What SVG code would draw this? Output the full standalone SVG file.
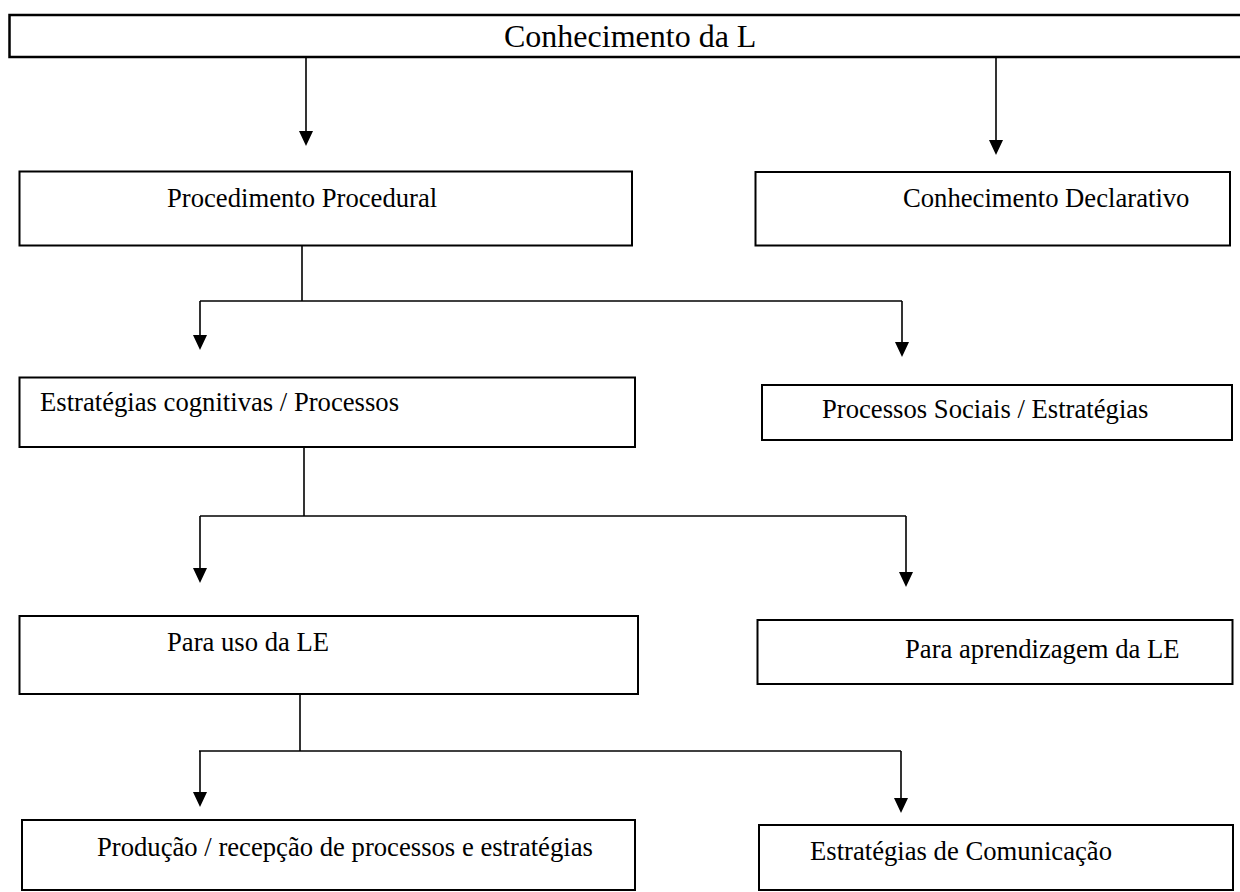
<svg xmlns="http://www.w3.org/2000/svg" width="1240" height="892" viewBox="0 0 1240 892">
<style>
.box{fill:#fff;stroke:#000;stroke-width:2}
.t{font-family:"Liberation Serif","Times New Roman",serif;font-size:26.67px;fill:#000}
.big{font-size:32px}
.c{fill:none;stroke:#000;stroke-width:1.6}
</style>
<defs>
<marker id="ah" viewBox="0 0 15 14" refX="5" refY="7" markerWidth="15" markerHeight="14" markerUnits="userSpaceOnUse" orient="auto">
<path d="M0,0 L15,7 L0,14 Z" fill="#000"/>
</marker>
</defs>
<rect width="1240" height="892" fill="#fff"/>
<g id="connectors">
<line class="c" x1="306" y1="57" x2="306" y2="136" marker-end="url(#ah)"/>
<line class="c" x1="996" y1="57" x2="996" y2="145" marker-end="url(#ah)"/>
<polyline class="c" points="302,246 302,301"/>
<polyline class="c" points="200,301 902,301"/>
<line class="c" x1="200" y1="301" x2="200" y2="340" marker-end="url(#ah)"/>
<line class="c" x1="902" y1="301" x2="902" y2="347" marker-end="url(#ah)"/>
<polyline class="c" points="304,447 304,516"/>
<polyline class="c" points="200,516 906,516"/>
<line class="c" x1="200" y1="516" x2="200" y2="573" marker-end="url(#ah)"/>
<line class="c" x1="906" y1="516" x2="906" y2="577" marker-end="url(#ah)"/>
<polyline class="c" points="300,694 300,751"/>
<polyline class="c" points="199,751 901,751"/>
<line class="c" x1="200" y1="751" x2="200" y2="797" marker-end="url(#ah)"/>
<line class="c" x1="901" y1="751" x2="901" y2="803" marker-end="url(#ah)"/>
</g>
<g id="n-top">
<rect class="box" x="9.5" y="15" width="1240" height="42" style="stroke-width:2.5"/>
<text class="t big" x="504" y="47">Conhecimento da L</text>
</g>
<g id="n-procedimento">
<rect class="box" x="19.5" y="171.5" width="612.5" height="74"/>
<text class="t" x="167" y="207">Procedimento Procedural</text>
</g>
<g id="n-declarativo">
<rect class="box" x="755.5" y="172" width="474.5" height="73.5"/>
<text class="t" x="903" y="207">Conhecimento Declarativo</text>
</g>
<g id="n-cognitivas">
<rect class="box" x="19.5" y="377.5" width="615.5" height="69.5"/>
<text class="t" x="40" y="411">Estratégias cognitivas / Processos</text>
</g>
<g id="n-sociais">
<rect class="box" x="762" y="385" width="470" height="55"/>
<text class="t" x="822" y="418">Processos Sociais / Estratégias</text>
</g>
<g id="n-uso">
<rect class="box" x="19.5" y="616" width="618.5" height="78"/>
<text class="t" x="167" y="651">Para uso da LE</text>
</g>
<g id="n-aprendizagem">
<rect class="box" x="757.5" y="620" width="475" height="64"/>
<text class="t" x="905" y="658">Para aprendizagem da LE</text>
</g>
<g id="n-producao">
<rect class="box" x="22" y="820" width="613" height="70"/>
<text class="t" x="97" y="856">Produção / recepção de processos e estratégias</text>
</g>
<g id="n-comunicacao">
<rect class="box" x="759" y="825" width="474" height="65"/>
<text class="t" x="810" y="860">Estratégias de Comunicação</text>
</g>
</svg>
